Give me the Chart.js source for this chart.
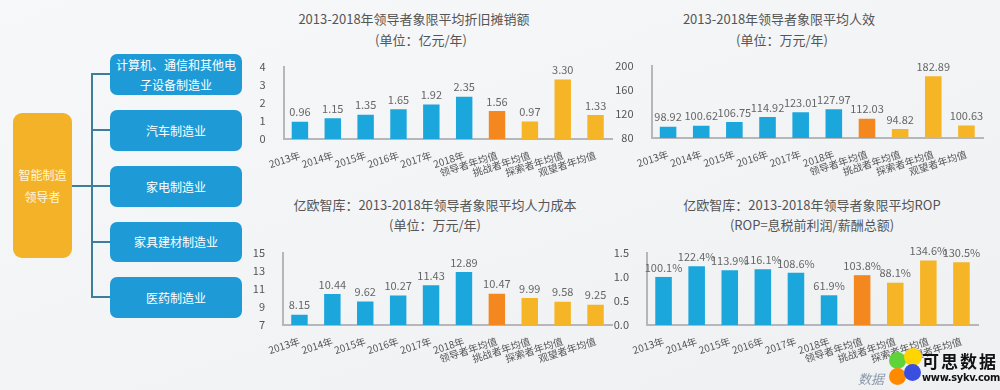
<!DOCTYPE html>
<html><head><meta charset="utf-8">
<script src="https://cdn.jsdelivr.net/npm/chart.js@4/dist/chart.umd.min.js"></script>
<style>
html,body{margin:0;padding:0;}
body{width:1000px;height:390px;position:relative;overflow:hidden;background:linear-gradient(160deg,#f7f8fa 0%,#eef0f2 100%);font-family:"Noto Sans CJK SC","Noto Sans",sans-serif;}
.abs{position:absolute;}
.title{position:absolute;color:#555;font-size:13px;white-space:nowrap;transform:translateX(-50%);line-height:16px;}
.box{position:absolute;background:#1e9bd7;color:#fff;border-radius:7px;display:flex;align-items:center;justify-content:center;text-align:center;font-size:12px;line-height:20px;white-space:nowrap;}
.lead{position:absolute;background:#f4b228;color:#fff6dc;border-radius:9px;display:flex;align-items:center;justify-content:center;text-align:center;font-size:12px;line-height:22px;}
.ln{position:absolute;background:#3d7e98;}
canvas{position:absolute;}
.dot{position:absolute;border-radius:50%;}
</style></head><body>
<!-- diagram -->
<div class="lead" style="left:13px;top:113px;width:59px;height:145px;">智能制造<br>领导者</div>
<div class="ln" style="left:72px;top:185px;width:20px;height:2px;"></div>
<div class="ln" style="left:91px;top:73px;width:2px;height:225px;"></div>
<div class="ln" style="left:92px;top:73px;width:18px;height:2px;"></div>
<div class="ln" style="left:92px;top:129px;width:18px;height:2px;"></div>
<div class="ln" style="left:92px;top:185px;width:18px;height:2px;"></div>
<div class="ln" style="left:92px;top:241px;width:18px;height:2px;"></div>
<div class="ln" style="left:92px;top:296px;width:18px;height:2px;"></div>
<div class="box" style="left:110px;top:54px;width:132px;height:41px;">计算机、通信和其他电<br>子设备制造业</div>
<div class="box" style="left:110px;top:110px;width:132px;height:41px;">汽车制造业</div>
<div class="box" style="left:110px;top:166px;width:132px;height:41px;">家电制造业</div>
<div class="box" style="left:110px;top:222px;width:132px;height:40px;">家具建材制造业</div>
<div class="box" style="left:110px;top:277px;width:132px;height:41px;">医药制造业</div>

<div class="title" style="left:414px;top:11px;">2013-2018年领导者象限平均折旧摊销额</div>
<div class="title" style="left:421px;top:32px;">(单位：亿元/年)</div>
<div class="title" style="left:779px;top:11px;">2013-2018年领导者象限平均人效</div>
<div class="title" style="left:782px;top:32px;">(单位：万元/年)</div>
<div class="title" style="left:435px;top:197px;">亿欧智库：2013-2018年领导者象限平均人力成本</div>
<div class="title" style="left:435px;top:217px;">(单位：万元/年)</div>
<div class="title" style="left:812px;top:197px;">亿欧智库：2013-2018年领导者象限平均ROP</div>
<div class="title" style="left:812px;top:217px;">(ROP=息税前利润/薪酬总额)</div>

<canvas id="c1" style="left:250px;top:0px;" width="375" height="195"></canvas>
<canvas id="c2" style="left:600px;top:0px;" width="400" height="195"></canvas>
<canvas id="c3" style="left:250px;top:190px;" width="375" height="200"></canvas>
<canvas id="c4" style="left:600px;top:190px;" width="400" height="200"></canvas>

<!-- watermark -->
<div class="abs" style="left:858px;top:369px;color:#8a97a8;font-size:13px;font-style:italic;">数据</div>
<div class="dot" style="left:889px;top:352px;width:17px;height:17px;background:#5fd43a;"></div>
<div class="dot" style="left:904px;top:348px;width:18px;height:18px;background:#ffd400;"></div>
<div class="dot" style="left:889px;top:368px;width:17px;height:17px;background:#ff8a00;"></div>
<div class="dot" style="left:904px;top:364px;width:17px;height:17px;background:#3a4fe0;"></div>
<div class="abs" style="left:922px;top:351px;color:#111;font-size:17px;font-weight:bold;letter-spacing:2px;line-height:20px;">可思数据</div>
<div class="abs" style="left:922px;top:371px;color:#111;font-size:11px;font-weight:bold;line-height:14px;letter-spacing:-0.3px;font-family:'DejaVu Sans Condensed','Liberation Sans',sans-serif;">www.sykv.com</div>

<script>
const categories = ['2013年','2014年','2015年','2016年','2017年','2018年','领导者年均值','挑战者年均值','探索者年均值','观望者年均值'];
const depreciation = [0.96,1.15,1.35,1.65,1.92,2.35,1.56,0.97,3.30,1.33];
const efficiency = [98.92,100.62,106.75,114.92,123.01,127.97,112.03,94.82,182.89,100.63];
const laborCost = [8.15,10.44,9.62,10.27,11.43,12.89,10.47,9.99,9.58,9.25];
const rop = [1.001,1.224,1.139,1.161,1.086,0.619,1.038,0.881,1.346,1.305];
const ticks1 = [0,1,2,3,4];
const ticks2 = [80,120,160,200];
const ticks3 = [7,9,11,13,15];
const ticks4 = [0,0.5,1.0,1.5];

const BLUE='#1ba6dc', ORANGE='#f5871f', YELLOW='#f5b526';
const barColors = categories.map((c,i)=> i<6?BLUE:(i===6?ORANGE:YELLOW));

Chart.defaults.font.family = '"Noto Sans CJK SC","Noto Sans",sans-serif';
Chart.defaults.animation = false;

const labelPlugin = {
  id:'vlabels',
  afterDatasetsDraw(chart, args, opts){
    const ctx = chart.ctx;
    const meta = chart.getDatasetMeta(0);
    const data = chart.data.datasets[0].data;
    ctx.save();
    ctx.font = '11px "Noto Sans CJK SC","Noto Sans",sans-serif';
    ctx.fillStyle = '#666';
    ctx.textAlign = 'center';
    ctx.textBaseline = 'bottom';
    meta.data.forEach((bar,i)=>{
      ctx.fillText(opts.fmt(data[i]), bar.x, bar.y - 4);
    });
    ctx.restore();
  }
};

function make(id, values, tickVals, yW, pad, xH, fmtLabel, fmtTick){
  new Chart(document.getElementById(id), {
    type:'bar',
    data:{labels:categories, datasets:[{data:values, backgroundColor:barColors, barPercentage:0.5, categoryPercentage:1.0}]},
    options:{
      responsive:false,
      layout:{padding:{left:0, right:pad.right, top:pad.top, bottom:0}},
      plugins:{legend:{display:false}, tooltip:{enabled:false}, vlabels:{fmt:fmtLabel}},
      scales:{
        x:{
          grid:{display:false},
          border:{display:true, color:'#b5b7ba', width:2},
          ticks:{color:'#555', font:{size:10}, minRotation:18, maxRotation:18, padding:2, autoSkip:false},
          afterFit(s){ s.height = xH; }
        },
        y:{
          min:tickVals[0], max:tickVals[tickVals.length-1],
          grid:{display:false},
          border:{display:true, color:'#b5b7ba', width:2},
          afterBuildTicks(s){ s.ticks = tickVals.map(v=>({value:v})); },
          ticks:{color:'#555', font:{size:11}, padding:10, callback:(v)=>fmtTick(v)},
          afterFit(s){ s.width = yW; }
        }
      }
    },
    plugins:[labelPlugin]
  });
}

make('c1', depreciation, ticks1, 33.5, {right:13, top:67}, 56, v=>v.toFixed(2), v=>String(v));
make('c2', efficiency, ticks2, 51.5, {right:17, top:66}, 57, v=>v.toFixed(2), v=>String(v));
make('c3', laborCost, ticks3, 33, {right:13, top:63}, 65, v=>v.toFixed(2), v=>String(v));
make('c4', rop, ticks4, 47, {right:22, top:63}, 65, v=>(v*100).toFixed(1)+'%', v=>v.toFixed(1));
</script>
</body></html>
